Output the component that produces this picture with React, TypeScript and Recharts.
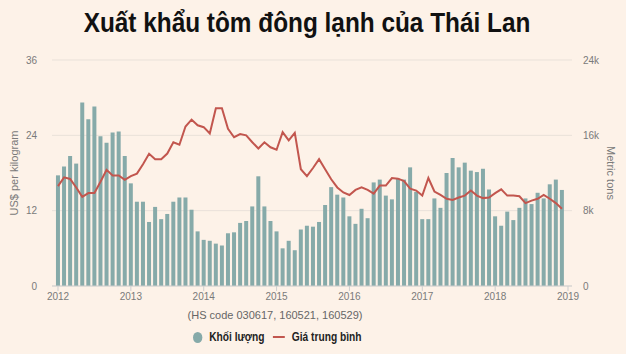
import { ComposedChart, Bar, Line, XAxis, YAxis, CartesianGrid } from "recharts";

// thousand metric tons per month, Jan 2012 .. Dec 2018
const volumeK = [
  11.75, 12.7, 13.8, 13.0, 19.5, 17.7, 19.05, 15.9, 15.2, 16.3, 16.4, 13.8,
  10.9, 8.95, 8.95, 6.8, 8.4, 7.1, 7.65, 8.95, 9.4, 9.4, 8.1, 5.8,
  4.9, 4.8, 4.5, 4.3, 5.6, 5.7, 6.7, 6.9, 8.45, 11.65, 8.45, 6.9,
  5.8, 4.0, 4.8, 3.8, 6.0, 6.4, 6.3, 6.8, 8.6, 10.5, 9.7, 9.4,
  7.4, 6.6, 8.2, 7.2, 11.0, 11.3, 9.6, 9.2, 11.4, 11.3, 12.6, 10.0,
  7.1, 7.1, 9.3, 8.3, 12.0, 13.6, 12.6, 13.1, 12.25, 12.1, 12.45, 10.25,
  7.4, 6.4, 7.9, 7.0, 8.3, 9.3, 8.7, 9.9, 9.3, 10.8, 11.3, 10.2,
];

// US$ per kilogram
const price = [
  15.9, 17.3, 17.05, 15.7, 14.2, 14.8, 14.8, 16.6, 18.5, 17.6, 17.6, 16.9,
  17.5, 17.9, 19.4, 21.05, 20.2, 20.2, 21.1, 22.9, 22.5, 25.4, 26.5, 25.6,
  25.3, 24.3, 28.3, 28.3, 25.05, 23.7, 24.2, 24.0, 22.9, 21.9, 22.9, 22.1,
  21.7, 24.5, 23.2, 24.4, 18.6, 17.5, 18.8, 20.2, 18.6, 17.0, 15.7, 14.9,
  14.5, 15.3, 15.7, 15.3, 14.7, 16.0, 16.0, 17.2, 17.1, 16.7, 15.5, 15.2,
  14.4, 17.2, 15.05, 14.5, 13.9, 13.7, 14.1, 14.4, 15.2, 14.4, 14.0, 14.1,
  14.8, 15.4, 14.4, 14.4, 14.3, 13.2, 13.6, 13.9, 14.5, 13.9, 13.2, 12.3,
];

const yearLabels = ["2012", "2013", "2014", "2015", "2016", "2017", "2018", "2019"];
const yearTicks = yearLabels.map((_, i) => i * 12);
const priceTicks = [0, 12, 24, 36];
const volumeTicks = [0, 8000, 16000, 24000];

const data = price.map((p, i) => ({ m: i, price: p, volume: volumeK[i] * 1000 }));

const BAR = "#86aaa9";
const LINE = "#c2564e";
const BG = "#fdf2e8";
const TICK = "#7a7a7a";
const FONT = "'Liberation Sans', Arial, sans-serif";

export default function App() {
  return (
    <div style={{ position: "fixed", left: 0, top: 0, width: 626, height: 354, background: BG }}>
      <div
        style={{
          position: "absolute",
          left: 0,
          top: 6,
          width: 614,
          textAlign: "center",
          fontFamily: FONT,
          fontWeight: "bold",
          fontSize: 28,
          color: "#111",
          lineHeight: "34px",
          transform: "scaleX(0.87)",
          whiteSpace: "nowrap",
        }}
      >
        Xuất khẩu tôm đông lạnh của Thái Lan
      </div>
      <ComposedChart
        width={626}
        height={354}
        data={data}
        margin={{ top: 60, right: 0, bottom: 43, left: 0 }}
      >
        <CartesianGrid horizontal vertical={false} stroke="#e9e1d9" yAxisId="left" />
        <XAxis
          dataKey="m"
          type="number"
          domain={[0, 84]}
          ticks={yearTicks}
          tickFormatter={(v: number) => yearLabels[v / 12]}
          padding={{ left: 6, right: 4 }}
          height={25}
          axisLine={{ stroke: "#cfcfcf" }}
          tickLine={{ stroke: "#cfcfcf" }}
          tickSize={5}
          tickMargin={2}
          tick={{ fill: TICK, fontSize: 10, fontFamily: FONT }}
          interval={0}
        />
        <YAxis
          yAxisId="left"
          domain={[0, 36]}
          ticks={priceTicks}
          width={52}
          axisLine={false}
          tickLine={false}
          tickSize={0}
          tickMargin={15}
          tick={{ fill: TICK, fontSize: 10, fontFamily: FONT }}
          label={{
            value: "US$ per kilogram",
            angle: -90,
            position: "center",
            dx: -12,
            fill: TICK,
            fontSize: 11,
            fontFamily: FONT,
          }}
        />
        <YAxis
          yAxisId="right"
          orientation="right"
          domain={[0, 24000]}
          ticks={volumeTicks}
          tickFormatter={(v: number) => (v === 0 ? "0" : `${v / 1000}k`)}
          width={54}
          axisLine={false}
          tickLine={false}
          tickSize={0}
          tickMargin={11}
          tick={{ fill: TICK, fontSize: 10, fontFamily: FONT }}
          label={{
            value: "Metric tons",
            angle: 90,
            position: "center",
            dx: 12,
            fill: TICK,
            fontSize: 11,
            fontFamily: FONT,
          }}
        />
        <Bar yAxisId="right" dataKey="volume" fill={BAR} barSize={4} isAnimationActive={false} />
        <Line
          yAxisId="left"
          type="linear"
          dataKey="price"
          stroke={LINE}
          strokeWidth={2}
          dot={false}
          isAnimationActive={false}
        />
      </ComposedChart>
      <div
        style={{
          position: "absolute",
          left: 175,
          top: 309,
          width: 200,
          textAlign: "center",
          fontFamily: FONT,
          fontSize: 11,
          color: "#666",
          whiteSpace: "nowrap",
        }}
      >
        (HS code 030617, 160521, 160529)
      </div>
      <div
        style={{
          position: "absolute",
          left: 193,
          top: 330,
          display: "flex",
          alignItems: "center",
          fontFamily: FONT,
          fontSize: 12,
          fontWeight: "bold",
          color: "#222",
          whiteSpace: "nowrap",
          transform: "scaleX(0.85)",
          transformOrigin: "left center",
        }}
      >
        <span style={{ width: 11, height: 11, borderRadius: 6, background: BAR, marginRight: 8 }} />
        <span>Khối lượng</span>
        <span style={{ width: 14, height: 2, background: LINE, margin: "0 8px 0 10px" }} />
        <span>Giá trung bình</span>
      </div>
    </div>
  );
}
